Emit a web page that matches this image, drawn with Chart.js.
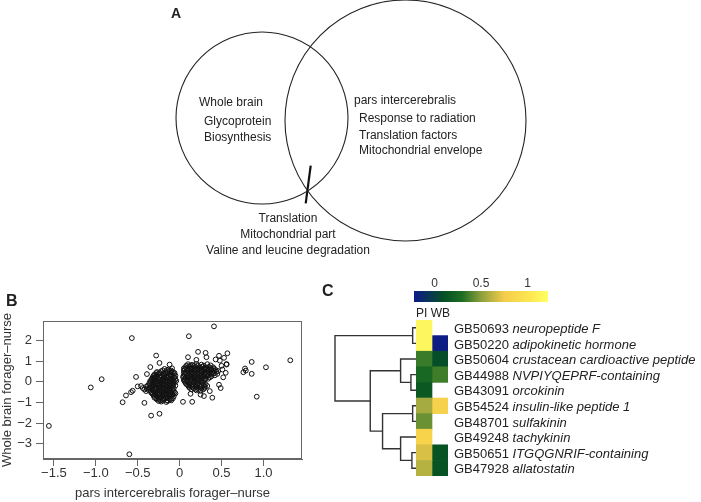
<!DOCTYPE html>
<html lang="en">
<head>
<meta charset="UTF-8">
<title>Forager vs nurse</title>
<script src="https://cdn.jsdelivr.net/npm/chart.js@4.4.0/dist/chart.umd.min.js"></script>
<style>
  body { margin: 0; background: #fff; }
  #fig { position: relative; width: 701px; height: 502px; overflow: hidden;
         font-family: "Liberation Sans", Arial, sans-serif; color: #222; }
  #fig canvas { position: absolute; }
  .t { position: absolute; font-size: 12px; line-height: 1; white-space: nowrap; }
  .c { transform: translateX(-50%); }
  .panel { position: absolute; font-weight: bold; line-height: 1; }
  #genes { position: absolute; left: 454px; top: 321px; font-size: 13px; }
  #genes div { height: 15.6px; line-height: 15.6px; white-space: nowrap; }
</style>
</head>
<body>
<div id="fig">
  <canvas id="venn" width="420" height="262" style="left:140px;top:0px"></canvas>
  <canvas id="scatterB" width="312" height="202" style="left:0px;top:300px"></canvas>
  <canvas id="dendro" width="84" height="156" style="left:333px;top:320px"></canvas>
  <canvas id="heat" width="32" height="156" style="left:416px;top:320px"></canvas>
  <canvas id="cbar" width="154" height="26" style="left:404px;top:276px"></canvas>

  <div class="panel" style="left:171px;top:6px;font-size:14px">A</div>
  <div class="panel" style="left:6px;top:293px;font-size:16px">B</div>
  <div class="panel" style="left:322px;top:283px;font-size:16px">C</div>

  <div class="t" style="left:199px;top:96px">Whole brain</div>
  <div class="t" style="left:204px;top:115px">Glycoprotein</div>
  <div class="t" style="left:204px;top:131px">Biosynthesis</div>
  <div class="t" style="left:354px;top:94px">pars intercerebralis</div>
  <div class="t" style="left:359px;top:112px">Response to radiation</div>
  <div class="t" style="left:359px;top:129px">Translation factors</div>
  <div class="t" style="left:359px;top:144px">Mitochondrial envelope</div>
  <div class="t c" style="left:288px;top:212px">Translation</div>
  <div class="t c" style="left:288px;top:228px">Mitochondrial part</div>
  <div class="t c" style="left:288px;top:244px">Valine and leucine degradation</div>

  <div class="t" style="left:416px;top:307px">PI WB</div>
  <div id="genes"></div>
</div>

<script>
// ---- panel A: overlap of GO terms (venn) ----
const vennSets = ['Whole brain', 'pars intercerebralis'];
const vennX = [0, 1.435];
const vennY = [0, -0.025];
const vennRadius = [0.86, 1.205];
const slashX = [0.487, 0.437];
const slashY = [-0.477, -0.853];

// ---- panel B: log fold change forager-nurse, [pars intercerebralis, whole brain] ----
const geneFC = [
  // outliers / fringe
  [-1.56,-2.14],[-1.06,-0.27],[-0.93,0.13],[-0.68,-0.99],[-0.64,-0.66],[-0.6,-3.52],[-0.57,2.13],
  [-0.52,0.24],[-0.58,-0.5],[-0.56,-0.43],[-0.5,-0.22],[-0.46,-0.2],[-0.42,-1.02],[-0.34,-1.64],
  [-0.24,-1.55],[-0.28,1.28],[-0.24,0.92],[-0.12,0.84],[-0.35,0.72],[-0.39,0.38],
  [0.11,2.22],[0.41,2.7],[0.04,-0.97],[0.15,-0.97],[0.22,1.46],[0.31,1.41],[0.32,1.2],[0.1,1.2],
  [0.2,1.07],[0.47,1.27],[0.57,1.39],[0.43,1.09],[0.53,1.17],[0.48,1.03],[0.56,0.87],[0.76,0.47],
  [0.78,0.65],[0.79,0.55],[0.86,0.97],[0.86,0.39],[1.03,0.71],[0.92,-0.72],[1.32,1.05],[0.39,-0.77],
  [0.13,-0.58],[0.25,-0.62],[0.29,-0.69],[0.36,-0.45],[0.47,-0.14],[0.49,-0.3],[0.51,0.6],[0.55,0.44],
  [0.52,0.22],[0.56,0.84],[0.5,0.78],[0.04,0.24],
  // left cluster
  [-0.18,0.63],[-0.13,0.6],[-0.09,0.66],
  [-0.27,0.48],[-0.22,0.52],[-0.17,0.47],[-0.12,0.53],[-0.08,0.49],
  [-0.3,0.36],[-0.25,0.4],[-0.2,0.35],[-0.16,0.41],[-0.11,0.37],[-0.07,0.39],
  [-0.32,0.23],[-0.28,0.27],[-0.24,0.22],[-0.19,0.26],[-0.15,0.24],[-0.1,0.28],[-0.06,0.22],
  [-0.33,0.1],[-0.29,0.14],[-0.25,0.11],[-0.21,0.13],[-0.17,0.09],[-0.13,0.15],[-0.09,0.11],[-0.05,0.13],
  [-0.34,0.02],[-0.3,-0.02],[-0.26,0.01],[-0.22,-0.03],[-0.18,0.03],[-0.14,-0.01],[-0.1,0.02],[-0.06,-0.02],
  [-0.35,-0.1],[-0.31,-0.14],[-0.27,-0.11],[-0.23,-0.13],[-0.19,-0.09],[-0.15,-0.14],[-0.11,-0.12],[-0.07,-0.1],
  [-0.4,-0.24],[-0.36,-0.27],[-0.32,-0.23],[-0.28,-0.26],[-0.24,-0.25],[-0.2,-0.28],[-0.16,-0.23],[-0.12,-0.26],[-0.08,-0.24],
  [-0.42,-0.37],[-0.37,-0.4],[-0.33,-0.36],[-0.29,-0.39],[-0.25,-0.38],[-0.21,-0.35],[-0.17,-0.4],[-0.13,-0.37],[-0.09,-0.39],
  [-0.34,-0.52],[-0.3,-0.48],[-0.26,-0.51],[-0.22,-0.49],[-0.18,-0.53],[-0.14,-0.48],[-0.1,-0.5],[-0.06,-0.52],
  [-0.32,-0.6],[-0.28,-0.64],[-0.24,-0.61],[-0.2,-0.63],[-0.16,-0.6],[-0.12,-0.65],[-0.08,-0.62],
  [-0.3,-0.77],[-0.26,-0.73],[-0.22,-0.76],[-0.18,-0.74],[-0.14,-0.78],[-0.1,-0.72],
  [-0.27,-0.86],[-0.23,-0.9],[-0.19,-0.87],[-0.15,-0.89],[-0.11,-0.85],
  [-0.22,-0.96],[-0.16,-0.98],
  [-0.2,0.56],[-0.15,0.57],[-0.1,0.55],
  [-0.28,0.43],[-0.24,0.45],[-0.19,0.42],[-0.14,0.46],[-0.1,0.44],[-0.06,0.43],
  [-0.31,0.3],[-0.27,0.33],[-0.22,0.29],[-0.18,0.32],[-0.13,0.3],[-0.09,0.33],[-0.05,0.3],
  [-0.33,0.17],[-0.3,0.2],[-0.26,0.16],[-0.23,0.19],[-0.19,0.18],[-0.15,0.2],[-0.11,0.16],[-0.07,0.19],
  [-0.35,0.05],[-0.31,0.07],[-0.28,0.04],[-0.24,0.08],[-0.2,0.05],[-0.16,0.07],[-0.12,0.04],[-0.08,0.07],[-0.04,0.05],
  [-0.36,-0.05],[-0.32,-0.07],[-0.28,-0.04],[-0.24,-0.08],[-0.2,-0.06],[-0.16,-0.04],[-0.12,-0.07],[-0.08,-0.05],
  [-0.38,-0.17],[-0.33,-0.19],[-0.29,-0.16],[-0.25,-0.2],[-0.21,-0.18],[-0.17,-0.16],[-0.13,-0.19],[-0.09,-0.17],[-0.05,-0.18],
  [-0.44,-0.3],[-0.39,-0.32],[-0.35,-0.29],[-0.31,-0.33],[-0.27,-0.31],[-0.23,-0.29],[-0.19,-0.32],[-0.15,-0.3],[-0.11,-0.33],[-0.07,-0.31],
  [-0.4,-0.45],[-0.35,-0.43],[-0.31,-0.46],[-0.27,-0.44],[-0.23,-0.42],[-0.19,-0.46],[-0.15,-0.44],[-0.11,-0.42],[-0.07,-0.45],
  [-0.33,-0.55],[-0.29,-0.58],[-0.25,-0.56],[-0.21,-0.54],[-0.17,-0.57],[-0.13,-0.55],[-0.09,-0.58],[-0.05,-0.56],
  [-0.31,-0.67],[-0.27,-0.7],[-0.23,-0.68],[-0.19,-0.66],[-0.15,-0.69],[-0.11,-0.67],[-0.07,-0.7],
  [-0.28,-0.8],[-0.24,-0.83],[-0.2,-0.81],[-0.16,-0.79],[-0.12,-0.82],[-0.08,-0.8],
  [-0.25,-0.93],[-0.2,-0.91],[-0.14,-0.93],[-0.1,-0.9],
  // right cluster
  [0.1,0.86],[0.15,0.83],[0.2,0.87],[0.26,0.84],[0.33,0.86],
  [0.07,0.71],[0.11,0.74],[0.15,0.7],[0.19,0.73],[0.23,0.71],[0.27,0.74],[0.31,0.7],[0.35,0.73],[0.4,0.71],
  [0.06,0.61],[0.1,0.58],[0.14,0.62],[0.18,0.59],[0.22,0.61],[0.26,0.58],[0.3,0.62],[0.34,0.59],[0.38,0.61],[0.43,0.58],
  [0.07,0.46],[0.11,0.49],[0.15,0.45],[0.19,0.48],[0.23,0.46],[0.27,0.49],[0.31,0.45],[0.35,0.48],[0.39,0.46],[0.44,0.49],
  [0.06,0.35],[0.1,0.32],[0.14,0.36],[0.18,0.33],[0.22,0.35],[0.26,0.32],[0.3,0.36],[0.34,0.33],[0.38,0.35],[0.42,0.32],
  [0.07,0.2],[0.11,0.23],[0.15,0.19],[0.19,0.22],[0.23,0.2],[0.27,0.23],[0.31,0.19],[0.36,0.22],
  [0.05,0.09],[0.09,0.06],[0.13,0.1],[0.17,0.07],[0.21,0.09],[0.26,0.06],[0.3,0.1],
  [0.07,-0.04],[0.12,-0.07],[0.17,-0.03],[0.22,-0.06],[0.27,-0.04],
  [0.1,-0.17],[0.14,-0.2],[0.19,-0.16],[0.24,-0.19],[0.29,-0.17],[0.33,-0.2],
  [0.12,-0.29],[0.17,-0.32],[0.21,-0.28],[0.26,-0.31],[0.3,-0.3],
  [0.2,-0.41],[0.25,-0.44],
  [0.08,0.79],[0.13,0.8],[0.17,0.78],[0.22,0.8],[0.29,0.79],[0.37,0.8],
  [0.05,0.66],[0.09,0.67],[0.13,0.65],[0.17,0.67],[0.21,0.66],[0.25,0.68],[0.29,0.65],[0.33,0.67],[0.37,0.66],[0.41,0.65],
  [0.05,0.53],[0.09,0.54],[0.13,0.52],[0.17,0.54],[0.21,0.53],[0.25,0.55],[0.29,0.52],[0.33,0.54],[0.37,0.53],[0.41,0.55],[0.46,0.53],
  [0.05,0.4],[0.09,0.42],[0.13,0.39],[0.17,0.41],[0.21,0.4],[0.25,0.42],[0.29,0.39],[0.33,0.41],[0.37,0.4],[0.41,0.42],[0.45,0.39],
  [0.05,0.27],[0.09,0.28],[0.13,0.26],[0.17,0.28],[0.21,0.27],[0.25,0.29],[0.29,0.26],[0.33,0.28],[0.38,0.27],
  [0.06,0.14],[0.1,0.16],[0.14,0.13],[0.18,0.15],[0.22,0.14],[0.26,0.16],[0.3,0.13],[0.34,0.15],
  [0.06,0.02],[0.1,0.0],[0.15,0.03],[0.19,0.01],[0.24,0.03],[0.28,0.0],
  [0.08,-0.11],[0.12,-0.12],[0.16,-0.1],[0.21,-0.12],[0.26,-0.11],[0.31,-0.12],
  [0.11,-0.24],[0.15,-0.25],[0.2,-0.23],[0.25,-0.25],[0.3,-0.24],
  [0.14,-0.36],[0.19,-0.37],[0.23,-0.35],[0.28,-0.37]
];
const xTicks = [-1.5, -1.0, -0.5, 0, 0.5, 1.0];
const yTicks = [2, 1, 0, -1, -2, -3];

// ---- panel C: neuropeptide heatmap ----
const geneIds = ['GB50693','GB50220','GB50604','GB44988','GB43091','GB54524','GB48701','GB49248','GB50651','GB47928'];
const geneNames = ['neuropeptide F','adipokinetic hormone','crustacean cardioactive peptide','NVPIYQEPRF-containing',
  'orcokinin','insulin-like peptide 1','sulfakinin','tachykinin','ITGQGNRIF-containing','allatostatin'];
const piValues = [1.15, 1.15, 0.35, 0.25, 0.15, 0.56, 0.44, 0.82, 0.68, 0.6];
const wbValues = [null, -0.2, 0.08, 0.36, null, 0.8, null, null, 0.12, 0.12];
const cbarTicks = [0, 0.5, 1];
// hclust-style merges: [left, right, height], negative = row
const dendroMerge = [
  [-1, -2, 0.053], [-4, -5, 0.074], [-3, 2, 0.2], [-6, -7, 0.053], [-9, -10, 0.062],
  [-8, 5, 0.2], [4, 6, 0.42], [3, 7, 0.57], [1, 8, 1.0]
];

// colour ramp
const rampStops = [
  [-0.22, [13, 26, 138]], [0.1, [5, 80, 35]], [0.3, [30, 110, 35]], [0.5, [140, 160, 60]],
  [0.75, [245, 205, 75]], [1.0, [252, 228, 80]], [1.22, [255, 255, 100]]
];
function rampColor(v) {
  if (v <= rampStops[0][0]) return 'rgb(' + rampStops[0][1].join(',') + ')';
  for (let i = 1; i < rampStops.length; i++) {
    if (v <= rampStops[i][0]) {
      const a = rampStops[i - 1], b = rampStops[i];
      const f = (v - a[0]) / (b[0] - a[0]);
      const c = a[1].map((x, k) => Math.round(x + (b[1][k] - x) * f));
      return 'rgb(' + c.join(',') + ')';
    }
  }
  return 'rgb(' + rampStops[rampStops.length - 1][1].join(',') + ')';
}

const noUi = { legend: { display: false }, tooltip: { enabled: false } };

// ---------- A ----------
new Chart(document.getElementById('venn'), {
  type: 'scatter',
  data: {
    datasets: [{
      label: 'sets',
      data: vennX.map((x, i) => ({ x: x, y: vennY[i] })),
      pointRadius: ctx => {
        const ca = ctx.chart.chartArea;
        if (!ca) return 0;
        return vennRadius[ctx.dataIndex] * (ca.right - ca.left) / 4.2;
      },
      pointBorderColor: '#222', pointBackgroundColor: 'rgba(0,0,0,0)', pointBorderWidth: 1.1,
      clip: false
    }, {
      label: 'slash',
      data: slashX.map((x, i) => ({ x: x, y: slashY[i] })),
      showLine: true, borderColor: '#111', borderWidth: 2.2, pointRadius: 0, clip: false
    }]
  },
  options: {
    responsive: false, animation: false, events: [],
    layout: { padding: 0 },
    plugins: noUi,
    scales: {
      x: { display: false, min: -1.22, max: 2.98 },
      y: { display: false, min: -1.44, max: 1.18 }
    }
  }
});

// ---------- B ----------
const minus = v => String(v).replace('-', '\u2212');
const boxPlugin = {
  id: 'box',
  afterDraw(chart) {
    const a = chart.chartArea, c = chart.ctx;
    c.save();
    c.strokeStyle = '#666';
    c.lineWidth = 1;
    c.strokeRect(Math.round(a.left) + 0.5, Math.round(a.top) + 0.5,
      Math.round(a.right - a.left) - 1, Math.round(a.bottom - a.top) - 1);
    c.restore();
  }
};
const axisFont = { family: '"Liberation Sans", Arial, sans-serif', size: 13 };
new Chart(document.getElementById('scatterB'), {
  type: 'scatter',
  data: {
    datasets: [{
      data: geneFC.map(p => ({ x: p[0], y: p[1] })),
      pointRadius: 2.4, pointBorderWidth: 1,
      pointBorderColor: '#111', pointBackgroundColor: 'rgba(0,0,0,0)'
    }]
  },
  options: {
    responsive: false, animation: false, events: [],
    layout: { padding: { top: 21, right: 10, left: 0, bottom: 0 } },
    plugins: noUi,
    scales: {
      x: {
        min: -1.63, max: 1.46,
        afterBuildTicks: s => { s.ticks = xTicks.map(v => ({ value: v })); },
        afterFit: s => { s.height = 43; },
        ticks: {
          autoSkip: false, maxRotation: 0, padding: 0, color: '#333', font: axisFont,
          callback: v => v === 0 ? '0' : minus(v.toFixed(1))
        },
        grid: { drawOnChartArea: false, tickLength: 7, color: '#666' },
        border: { color: '#666' },
        title: { display: true, text: 'pars intercerebralis forager\u2013nurse', color: '#333',
                 font: axisFont, padding: { top: 0, bottom: 1 } }
      },
      y: {
        min: -3.75, max: 2.96,
        afterBuildTicks: s => { s.ticks = yTicks.map(v => ({ value: v })); },
        afterFit: s => { s.width = 43; },
        ticks: { autoSkip: false, padding: 4, color: '#333', font: axisFont, callback: v => minus(v) },
        grid: { drawOnChartArea: false, tickLength: 7, color: '#666' },
        border: { color: '#666' },
        title: { display: true, text: 'Whole brain forager\u2013nurse', color: '#333',
                 font: axisFont, padding: { top: 0, bottom: 0 } }
      }
    }
  },
  plugins: [boxPlugin]
});

// ---------- C: dendrogram ----------
const nodeY = [], nodeH = [];
const childPos = id => id < 0 ? { y: -id, h: 0 } : { y: nodeY[id - 1], h: nodeH[id - 1] };
const dendroSets = dendroMerge.map(m => {
  const a = childPos(m[0]), b = childPos(m[1]);
  nodeY.push((a.y + b.y) / 2);
  nodeH.push(m[2]);
  return {
    data: [{ x: a.h, y: a.y }, { x: m[2], y: a.y }, { x: m[2], y: b.y }, { x: b.h, y: b.y }],
    showLine: true, borderColor: '#333', borderWidth: 1.4, pointRadius: 0, clip: false
  };
});
new Chart(document.getElementById('dendro'), {
  type: 'scatter',
  data: { datasets: dendroSets },
  options: {
    responsive: false, animation: false, events: [],
    layout: { padding: { left: 2, right: 0, top: 0, bottom: 0 } },
    plugins: noUi,
    scales: {
      x: { display: false, min: 0, max: 1, reverse: true },
      y: { display: false, min: 0.5, max: 10.5, reverse: true }
    }
  }
});

// ---------- C: heatmap cells ----------
new Chart(document.getElementById('heat'), {
  type: 'bar',
  data: {
    labels: geneIds,
    datasets: [{
      label: 'PI', grouped: false,
      data: piValues.map(v => v === null ? null : [0, 1]),
      backgroundColor: piValues.map(v => v === null ? 'rgba(0,0,0,0)' : rampColor(v)),
      borderWidth: 0, barPercentage: 1, categoryPercentage: 1
    }, {
      label: 'WB', grouped: false,
      data: wbValues.map(v => v === null ? null : [1, 2]),
      backgroundColor: wbValues.map(v => v === null ? 'rgba(0,0,0,0)' : rampColor(v)),
      borderWidth: 0, barPercentage: 1, categoryPercentage: 1
    }]
  },
  options: {
    indexAxis: 'y',
    responsive: false, animation: false, events: [],
    layout: { padding: 0 },
    plugins: noUi,
    scales: {
      x: { display: false, min: 0, max: 2 },
      y: { display: false }
    }
  }
});

// ---------- C: colour key ----------
new Chart(document.getElementById('cbar'), {
  type: 'bar',
  data: {
    labels: ['key'],
    datasets: [{
      data: [[rampStops[0][0], rampStops[rampStops.length - 1][0]]],
      backgroundColor: ctx => {
        const ch = ctx.chart, sx = ch.scales.x;
        if (!ch.chartArea || !sx) return '#888';
        const g = ch.ctx.createLinearGradient(sx.getPixelForValue(rampStops[0][0]), 0,
          sx.getPixelForValue(rampStops[rampStops.length - 1][0]), 0);
        const span = rampStops[rampStops.length - 1][0] - rampStops[0][0];
        rampStops.forEach(s => g.addColorStop((s[0] - rampStops[0][0]) / span, rampColor(s[0])));
        return g;
      },
      borderWidth: 0, barPercentage: 1, categoryPercentage: 1
    }]
  },
  options: {
    indexAxis: 'y',
    responsive: false, animation: false, events: [],
    layout: { padding: { left: 10, right: 10, top: 0, bottom: 0 } },
    plugins: noUi,
    scales: {
      x: {
        position: 'top', min: -0.22, max: 1.22,
        afterBuildTicks: s => { s.ticks = cbarTicks.map(v => ({ value: v })); },
        afterFit: s => { s.height = 15; },
        grid: { display: false, drawTicks: false }, border: { display: false },
        ticks: { padding: 0, color: '#333', autoSkip: false, maxRotation: 0,
                 font: { family: '"Liberation Sans", Arial, sans-serif', size: 12 },
                 callback: v => String(v) }
      },
      y: { display: false }
    }
  }
});

// gene labels (id + italic name)
const genesBox = document.getElementById('genes');
geneIds.forEach((id, i) => {
  const row = document.createElement('div');
  row.textContent = id + ' ';
  const em = document.createElement('i');
  em.textContent = geneNames[i];
  row.appendChild(em);
  genesBox.appendChild(row);
});
</script>
</body>
</html>
